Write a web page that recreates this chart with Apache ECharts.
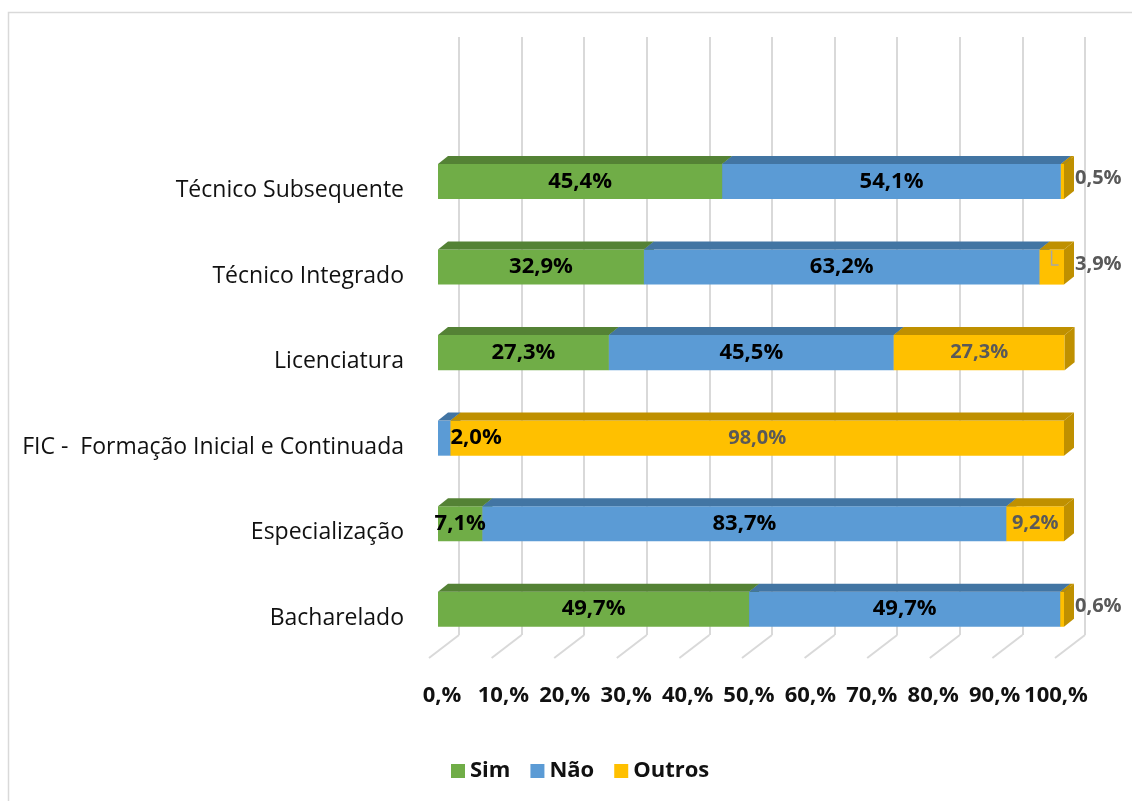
<!DOCTYPE html>
<html>
<head>
<meta charset="utf-8">
<script src="https://cdn.jsdelivr.net/npm/echarts@6/dist/echarts.min.js"></script>
<style>
  html, body { margin: 0; padding: 0; background: #fff; }
  #chart { width: 1132px; height: 801px; }
</style>
</head>
<body>
<div id="chart"></div>
<script>
// categories bottom -> top
const categories = ['Bacharelado', 'Especialização', 'FIC -  Formação Inicial e Continuada', 'Licenciatura', 'Técnico Integrado', 'Técnico Subsequente'];
const sim = [49.7, 7.1, 0, 27.3, 32.9, 45.4];
const nao = [49.7, 83.7, 2.0, 45.5, 63.2, 54.1];
const outros = [0.6, 9.2, 98.0, 27.3, 3.9, 0.5];
const xTicks = [0, 10, 20, 30, 40, 50, 60, 70, 80, 90, 100];
const xTickLabels = ['0,%', '10,%', '20,%', '30,%', '40,%', '50,%', '60,%', '70,%', '80,%', '90,%', '100,%'];

const FONT = '"Open Sans", "Noto Sans", sans-serif';
const DX = 10, DY = 8;   // fake 3D depth of the bars

function fmt(v) {
    return v.toFixed(1).replace('.', ',') + '%';
}

// build [start, end, catIndex, value] rows, stacked
function stackRows(values, below) {
    return values.map(function (v, i) {
        let s = 0;
        below.forEach(function (arr) { s += arr[i]; });
        return [s, s + v, i, v];
    });
}

function barRenderer(front, top, side, labelColor, labelSize, outsideSmall) {
    return function (params, api) {
        const v = api.value(3);
        if (!v) return { type: 'group', children: [] };
        const ci = api.value(2);
        const p0 = api.coord([api.value(0), ci]);
        const p1 = api.coord([api.value(1), ci]);
        const h = api.size([0, 1])[1] * 0.41;
        const x0 = p0[0], x1 = p1[0], yc = p0[1];
        const yTop = yc - h / 2, yBot = yc + h / 2;
        const children = [
            { type: 'rect', z2: 1, shape: { x: x0, y: yTop, width: x1 - x0, height: h }, style: { fill: front } },
            { type: 'polygon', z2: 1, shape: { points: [[x0, yTop], [x0 + DX, yTop - DY], [x1 + DX, yTop - DY], [x1, yTop]] }, style: { fill: top } },
            { type: 'polygon', z2: 1, shape: { points: [[x1, yTop], [x1 + DX, yTop - DY], [x1 + DX, yBot - DY], [x1, yBot]] }, style: { fill: side } }
        ];
        const w = x1 - x0;
        let lx = (x0 + x1) / 2, ly = yc, align = 'center';
        if (outsideSmall && v < 5) {
            lx = x1 + DX + 1; ly = yc - 3; align = 'left';
            if (w >= 20) {
                children.push({ type: 'polyline', z2: 50,
                    shape: { points: [[x0 + 12, yTop + 1], [x0 + 12, yc - 2], [x0 + 19, yc - 2]] },
                    style: { stroke: '#a6a6a6', lineWidth: 1.5, fill: null } });
            }
        } else if (w < 20) {
            lx = x1; align = 'left';
        }
        children.push({
            type: 'text', z2: 100, x: lx, y: ly,
            style: { text: fmt(v), fill: labelColor, font: 'bold ' + labelSize + 'px ' + FONT, align: align, verticalAlign: 'middle' }
        });
        return { type: 'group', children: children };
    };
}

const chart = echarts.init(document.getElementById('chart'));
chart.setOption({
    animation: false,
    backgroundColor: '#fff',
    graphic: [{
        type: 'rect', silent: true, z: -10,
        shape: { x: 8.5, y: 12.5, width: 1200, height: 900 },
        style: { fill: null, stroke: '#d9d9d9', lineWidth: 1.5 }
    }],
    legend: {
        data: ['Sim', 'Não', 'Outros'],
        left: 446, top: 755,
        icon: 'rect', itemWidth: 14, itemHeight: 14, itemGap: 20,
        textStyle: { fontFamily: FONT, fontWeight: 'bold', fontSize: 22, color: '#111' }
    },
    grid: [
        { left: 438, right: 68, top: 138.75, bottom: 149 },
        { left: 459, right: 47, top: 37, bottom: 166 },
        // tick labels sit on the front edge of the 3D floor
        { left: 442, right: 76, top: 37, bottom: 149 }
    ],
    xAxis: [{
        gridIndex: 0, type: 'value', min: 0, max: 100, interval: 10,
        axisLine: { show: false }, axisTick: { show: false }, splitLine: { show: false },
        axisLabel: { show: false }
    }, {
        gridIndex: 1, type: 'value', min: 0, max: 100, interval: 10,
        axisLine: { show: false }, axisTick: { show: false }, axisLabel: { show: false },
        splitLine: { show: true, lineStyle: { color: '#d9d9d9', width: 2 } }
    }, {
        gridIndex: 2, type: 'value', min: 0, max: 100, interval: 10,
        axisLine: { show: false }, axisTick: { show: false }, splitLine: { show: false },
        axisLabel: {
            margin: 33, color: '#111', fontFamily: FONT, fontWeight: 'bold', fontSize: 22,
            formatter: function (v) { return xTickLabels[xTicks.indexOf(v)]; }
        }
    }],
    yAxis: [{
        gridIndex: 0, type: 'category', data: categories,
        axisLine: { show: false }, axisTick: { show: false },
        axisLabel: { margin: 34, color: '#111', fontFamily: FONT, fontSize: 23, verticalAlign: 'top', lineHeight: 18 }
    }, {
        gridIndex: 1, type: 'value', min: 0, max: 1, show: false
    }, {
        gridIndex: 2, type: 'value', min: 0, max: 1, show: false
    }],
    series: [
        {
            // floor diagonals of the back-wall gridlines
            type: 'custom', silent: true, xAxisIndex: 1, yAxisIndex: 1, z: 1,
            data: xTicks.map(function (t) { return [t, 0]; }),
            renderItem: function (params, api) {
                const p = api.coord([api.value(0), 0]);
                return { type: 'line', shape: { x1: p[0], y1: p[1], x2: p[0] - 30, y2: p[1] + 23 },
                    style: { stroke: '#d9d9d9', lineWidth: 2 } };
            }
        },
        {
            name: 'Sim', type: 'custom', xAxisIndex: 0, yAxisIndex: 0,
            itemStyle: { color: '#70AD47' },
            encode: { x: [0, 1], y: 2 },
            data: stackRows(sim, []),
            renderItem: barRenderer('#70AD47', '#548235', '#548235', '#000', 22, false)
        },
        {
            name: 'Não', type: 'custom', xAxisIndex: 0, yAxisIndex: 0,
            itemStyle: { color: '#5B9BD5' },
            encode: { x: [0, 1], y: 2 },
            data: stackRows(nao, [sim]),
            renderItem: barRenderer('#5B9BD5', '#4275A3', '#4275A3', '#000', 22, false)
        },
        {
            name: 'Outros', type: 'custom', xAxisIndex: 0, yAxisIndex: 0,
            itemStyle: { color: '#FFC000' },
            encode: { x: [0, 1], y: 2 },
            data: stackRows(outros, [sim, nao]),
            renderItem: barRenderer('#FFC000', '#BF9000', '#BF9000', '#595959', 20, true)
        }
    ]
});
</script>
</body>
</html>
